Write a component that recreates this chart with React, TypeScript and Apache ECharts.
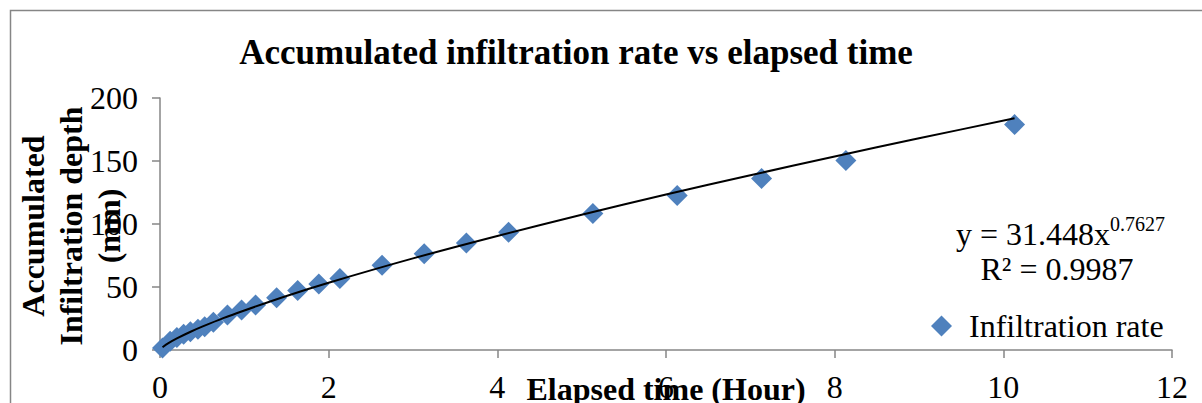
import { useEffect, useRef } from 'react'
import * as echarts from 'echarts'

// elapsed time (hours) and accumulated infiltration depth (mm)
const hours = [
  0.03, 0.12, 0.2, 0.28, 0.36, 0.45, 0.53, 0.633, 0.8, 0.967, 1.133, 1.383,
  1.633, 1.883, 2.133, 2.633, 3.133, 3.633, 4.133, 5.133, 6.133, 7.133, 8.133, 10.133,
]
const depth = [
  1.5, 7, 10, 12.5, 14.5, 16.5, 18.5, 22, 27.8, 31.7, 35.7, 41.5,
  47.3, 52.3, 56.8, 67.2, 76.4, 85.0, 93.4, 108.4, 122.7, 136.2, 150.4, 178.9,
]

// power trend line as drawn
const trendX = [0.03, 0.1, 0.2, 0.35, 0.5, 0.75, 1, 1.5, 2, 3, 4, 5, 6, 7, 8, 9, 10.133]
const trendY = [2.2, 5.4, 9.2, 14.1, 18.5, 25.3, 31.4, 42.9, 53.4, 72.7, 90.5, 107.3, 123.4, 138.7, 153.6, 168.0, 183.9]

const xTicks = { min: 0, max: 12, interval: 2 }
const yTicks = { min: 0, max: 200, interval: 50 }

const SERIF = '"Liberation Serif", "Times New Roman", serif'
const AXIS_GREY = '#868686'
const BLUE = '#4F81BD'

export default function App() {
  const ref = useRef<HTMLDivElement>(null)

  useEffect(() => {
    if (!ref.current) return
    const chart = echarts.init(ref.current, null, { renderer: 'svg' })

    chart.setOption({
      animation: false,
      backgroundColor: '#fff',
      grid: { left: 160, right: 30, top: 98, bottom: 51 },
      xAxis: {
        type: 'value',
        ...xTicks,
        splitLine: { show: false },
        axisLine: { lineStyle: { color: AXIS_GREY, width: 1.5 } },
        axisTick: { length: 8, lineStyle: { color: AXIS_GREY, width: 1.5 } },
        axisLabel: { margin: 21, color: '#000', fontFamily: SERIF, fontSize: 32 },
      },
      yAxis: {
        type: 'value',
        ...yTicks,
        splitLine: { show: false },
        axisLine: { show: true, lineStyle: { color: AXIS_GREY, width: 1.5 } },
        axisTick: { show: true, length: 8, lineStyle: { color: AXIS_GREY, width: 1.5 } },
        axisLabel: { margin: 22, color: '#000', fontFamily: SERIF, fontSize: 32 },
      },
      legend: {
        data: [{ name: 'Infiltration rate', icon: 'diamond', itemStyle: { opacity: 1 } }],
        left: 926,
        top: 305,
        itemWidth: 21,
        itemHeight: 21,
        textStyle: { color: '#000', fontFamily: SERIF, fontSize: 32, padding: [0, 0, 0, 12] },
      },
      graphic: [
        {
          type: 'rect',
          silent: true,
          shape: { x: 10.5, y: 10.5, width: 1400, height: 600 },
          style: { fill: 'none', stroke: AXIS_GREY, lineWidth: 1.5 },
        },
        {
          type: 'text',
          x: 576,
          y: 52,
          style: {
            text: 'Accumulated infiltration rate vs elapsed time',
            font: `bold 35px ${SERIF}`,
            fill: '#000',
            align: 'center',
            verticalAlign: 'middle',
          },
        },
        {
          type: 'text',
          x: 71,
          y: 226,
          rotation: Math.PI / 2,
          style: {
            text: 'Accumulated\nInfiltration depth\n(mm)',
            font: `bold 32px ${SERIF}`,
            lineHeight: 38,
            fill: '#000',
            align: 'center',
            verticalAlign: 'middle',
          },
        },
        {
          type: 'text',
          x: 666,
          y: 389,
          style: {
            text: 'Elapsed time (Hour)',
            font: `bold 32px ${SERIF}`,
            fill: '#000',
            align: 'center',
            verticalAlign: 'middle',
          },
        },
        {
          type: 'text',
          x: 1110,
          y: 234,
          style: {
            text: 'y = 31.448x',
            font: `32px ${SERIF}`,
            fill: '#000',
            align: 'right',
            verticalAlign: 'middle',
          },
        },
        {
          type: 'text',
          x: 1110,
          y: 224,
          style: {
            text: '0.7627',
            font: `20px ${SERIF}`,
            fill: '#000',
            align: 'left',
            verticalAlign: 'middle',
          },
        },
        {
          type: 'text',
          x: 1057,
          y: 269,
          style: {
            text: 'R² = 0.9987',
            font: `32px ${SERIF}`,
            fill: '#000',
            align: 'center',
            verticalAlign: 'middle',
          },
        },
      ],
      series: [
        {
          name: 'Infiltration rate',
          type: 'scatter',
          symbol: 'diamond',
          symbolSize: 21,
          itemStyle: { color: BLUE, opacity: 1 },
          data: hours.map((h, i) => [h, depth[i]]),
          z: 2,
        },
        {
          name: 'Power trend',
          type: 'line',
          smooth: 0.3,
          showSymbol: false,
          lineStyle: { color: '#000', width: 2 },
          data: trendX.map((h, i) => [h, trendY[i]]),
          z: 3,
        },
      ],
    })

    return () => chart.dispose()
  }, [])

  return (
    <div
      ref={ref}
      style={{ position: 'fixed', left: 0, top: 0, width: 1202, height: 403 }}
    />
  )
}
